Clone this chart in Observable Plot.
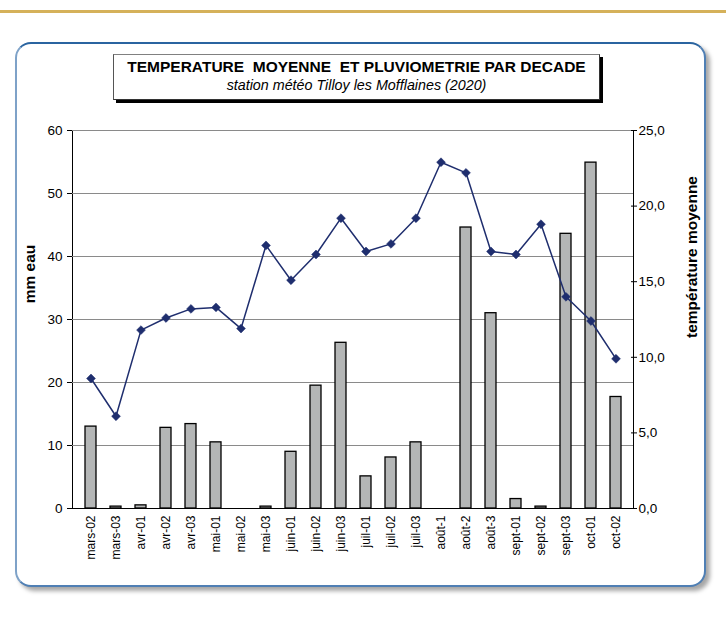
<!DOCTYPE html>
<html>
<head>
<meta charset="utf-8">
<script src="https://cdn.jsdelivr.net/npm/d3@7"></script>
<script src="https://cdn.jsdelivr.net/npm/@observablehq/plot@0.6"></script>
<style>
  html, body { margin: 0; padding: 0; background: #fff; }
  #page { position: relative; width: 726px; height: 621px; overflow: hidden; font-family: Arial, "Liberation Sans", sans-serif; }
  #gold { position: absolute; left: 0; top: 10px; width: 726px; height: 3px; background: #d5b15a; }
  #panel { position: absolute; left: 15px; top: 42px; width: 691px; height: 545px; box-sizing: border-box;
           border: 2px solid #4f7fb4; border-top-color: #2a64a0; border-left-color: #7ea2c8; border-radius: 16px;
           box-shadow: 4px 4px 4px rgba(0,0,0,0.35); background: #fff; }
  #titlebox { position: absolute; left: 113px; top: 54px; width: 487px; height: 46px; box-sizing: border-box;
              border: 1px solid #333; border-top-color: #808080; border-left-color: #555; background: #fff;
              box-shadow: 3px 3px 0 #000; text-align: center; }
  #t1 { position: absolute; left: 0; right: 0; top: 3px; font-weight: bold; font-size: 15.5px; white-space: pre; color: #000; }
  #t2 { position: absolute; left: 0; right: 0; top: 22px; font-style: italic; font-size: 14.3px; white-space: pre; color: #000; }
  .ylab { position: absolute; font-weight: bold; font-size: 15.5px; white-space: nowrap; transform: translate(-50%, -50%) rotate(-90deg); color: #000; }
  .layer { position: absolute; left: 0; top: 0; }
</style>
</head>
<body>
<div id="page">
  <div id="gold"></div>
  <div id="panel"></div>
  <div id="titlebox">
    <div id="t1">TEMPERATURE  MOYENNE  ET PLUVIOMETRIE PAR DECADE</div>
    <div id="t2">station météo Tilloy les Mofflaines (2020)</div>
  </div>
  <div class="ylab" style="left:30px; top:274px;">mm eau</div>
  <div class="ylab" style="left:692px; top:257px;">température moyenne</div>
  <div id="bars" class="layer"></div>
  <div id="line" class="layer"></div>
</div>
<script>
const categories = ["mars-02","mars-03","avr-01","avr-02","avr-03","mai-01","mai-02","mai-03","juin-01","juin-02","juin-03","juil-01","juil-02","juil-03","août-1","août-2","août-3","sept-01","sept-02","sept-03","oct-01","oct-02"];
const rain = [13.0,0.3,0.5,12.8,13.4,10.5,0,0.3,9.0,19.5,26.3,5.1,8.1,10.5,0,44.6,31.0,1.5,0.3,43.6,54.9,17.7];
const temperature = [8.6,6.1,11.8,12.6,13.2,13.3,11.9,17.4,15.1,16.8,19.2,17.0,17.5,19.2,22.9,22.2,17.0,16.8,18.8,14.0,12.4,9.9];
const rainTicks = [0,10,20,30,40,50,60];
const tempTicks = [0,5,10,15,20,25];

const data = categories.map((c, i) => ({cat: c, rain: rain[i], temp: temperature[i]}));

const common = {
  width: 726, height: 580,
  marginLeft: 72, marginRight: 93, marginTop: 130, marginBottom: 72
};
const xBand = {type: "band", domain: categories, paddingInner: 0.56, paddingOuter: 0.28};
const font = "Arial, 'Liberation Sans', sans-serif";

const barsPlot = Plot.plot({
  ...common,
  x: {...xBand},
  style: {fontFamily: font, fontSize: "13.5px", color: "#000", background: "transparent"},
  y: {domain: [0, 60]},
  marks: [
    Plot.frame({stroke: "#000", strokeWidth: 1}),
    Plot.gridY(rainTicks.filter(d => d > 0), {stroke: "#8a8a8a", strokeOpacity: 1, strokeWidth: 1}),
    Plot.barY(data, {x: "cat", y: "rain", fill: "#b4b6b6", stroke: "#000", strokeWidth: 1.3}),
    Plot.ruleY([0], {stroke: "#000"}),
    Plot.axisY(rainTicks, {anchor: "left", tickSize: 5, tickPadding: 5, label: null, fontSize: 13.5}),
    Plot.axisX({anchor: "bottom", tickRotate: -90, tickSize: 0, tickPadding: 7, label: null, fontSize: 12})
  ]
});
document.getElementById("bars").append(barsPlot);

const linePlot = Plot.plot({
  ...common,
  x: {...xBand, axis: null},
  style: {fontFamily: font, fontSize: "13.5px", color: "#000", background: "transparent"},
  y: {domain: [0, 25]},
  marks: [
    Plot.line(data, {x: "cat", y: "temp", stroke: "#1f2e6e", strokeWidth: 1.5}),
    Plot.dot(data, {x: "cat", y: "temp", symbol: "diamond2", r: 4, fill: "#1f2e6e", stroke: "#1f2e6e", strokeWidth: 0.5}),
    Plot.axisY(tempTicks, {anchor: "right", tickSize: 6, dx: -3, tickPadding: 2,
      tickFormat: d => d.toFixed(1).replace(".", ","), label: null, fontSize: 13.5})
  ]
});
document.getElementById("line").append(linePlot);
</script>
</body>
</html>
